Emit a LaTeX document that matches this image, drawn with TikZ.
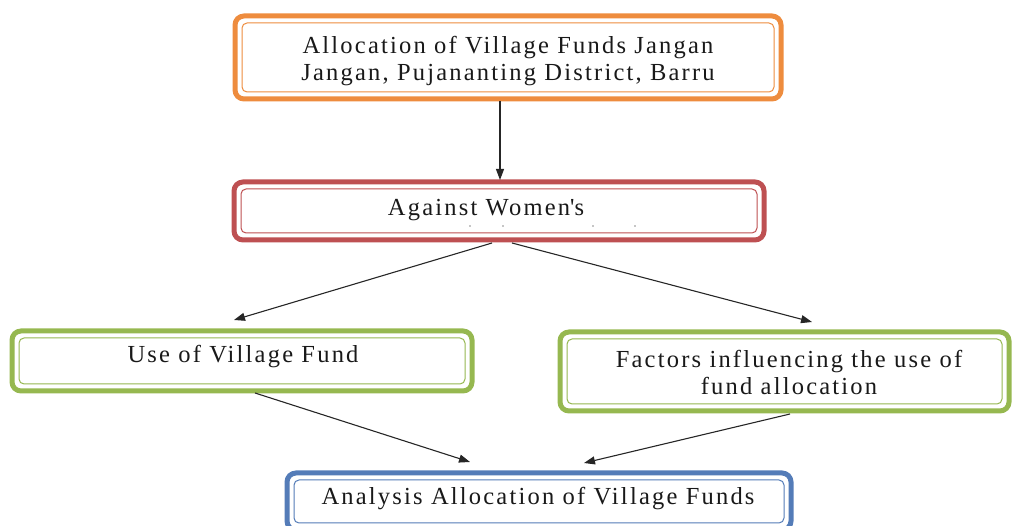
\documentclass[tikz,border=0pt]{standalone}
\usepackage{fontspec}
\setmainfont{Liberation Serif}[LetterSpace=9]
\usetikzlibrary{arrows.meta,calc}
\definecolor{orangeB}{RGB}{238,140,62}
\definecolor{redB}{RGB}{190,80,82}
\definecolor{greenB}{RGB}{150,184,80}
\definecolor{blueB}{RGB}{84,124,184}
\definecolor{txt}{RGB}{25,25,25}
\newcommand{\straightapos}{\XeTeXglyph\XeTeXcharglyph"27\relax}
\tikzset{
  box/.style={draw=#1, line width=5pt, rounded corners=9pt, fill=white, inner sep=0pt},
  inbox/.style={draw=#1, line width=1pt, rounded corners=5pt},
  lbl/.style={font=\fontsize{24.5}{27}\selectfont, text=txt, align=center},
  arr/.style={-{Triangle[length=11pt,width=8pt]}, line width=1.1pt, draw=black!85},
}
\begin{document}
\begin{tikzpicture}[x=1pt,y=-1pt]
\useasboundingbox (0,0) rectangle (1013,526);
% boxes
\draw[box=orangeB] (235,16) rectangle (781,99);
\draw[inbox=orangeB] (242,23) rectangle (774,92);
\draw[box=redB] (234,182) rectangle (764,240);
\draw[inbox=redB] (241,189) rectangle (757,233);
\draw[box=greenB] (12,331) rectangle (472,391);
\draw[inbox=greenB] (19,338) rectangle (465,384);
\draw[box=greenB] (560,332) rectangle (1009,411);
\draw[inbox=greenB] (567,339) rectangle (1002,404);
\draw[box=blueB] (287,473) rectangle (791,530);
\draw[inbox=blueB] (294,480) rectangle (784,523);
% text nodes
\node[lbl] (top) at (508,61) {Allocation of Village Funds Jangan\\Jangan, Pujananting District, Barru};
\node[lbl] (mid) at (486,210) {Against Women\straightapos s};
\node[lbl] (left) at (243,357) {Use of Village Fund};
\node[lbl] (right) at (789,372) {Factors influencing the use of\\fund allocation};
\node[lbl] (bot) at (538,499) {Analysis Allocation of Village Funds};
% faint dots
\foreach \x in {470,503,593,635} \fill[black!45] (\x,226) circle (0.8);
% anchor coordinates
\coordinate (topS) at (500,101);
\coordinate (midN) at (500,180);
\coordinate (midSL) at (492,243);
\coordinate (midSR) at (512,243);
\coordinate (leftN) at (234,320);
\coordinate (rightN) at (812,322);
\coordinate (leftS) at (255,393);
\coordinate (rightS) at (790,414);
\coordinate (botNL) at (470,462);
\coordinate (botNR) at (584,463);
\draw[arr] (topS) -- (midN);
\draw[arr] (midSL) -- (leftN);
\draw[arr] (midSR) -- (rightN);
\draw[arr] (leftS) -- (botNL);
\draw[arr] (rightS) -- (botNR);
\end{tikzpicture}
\end{document}
